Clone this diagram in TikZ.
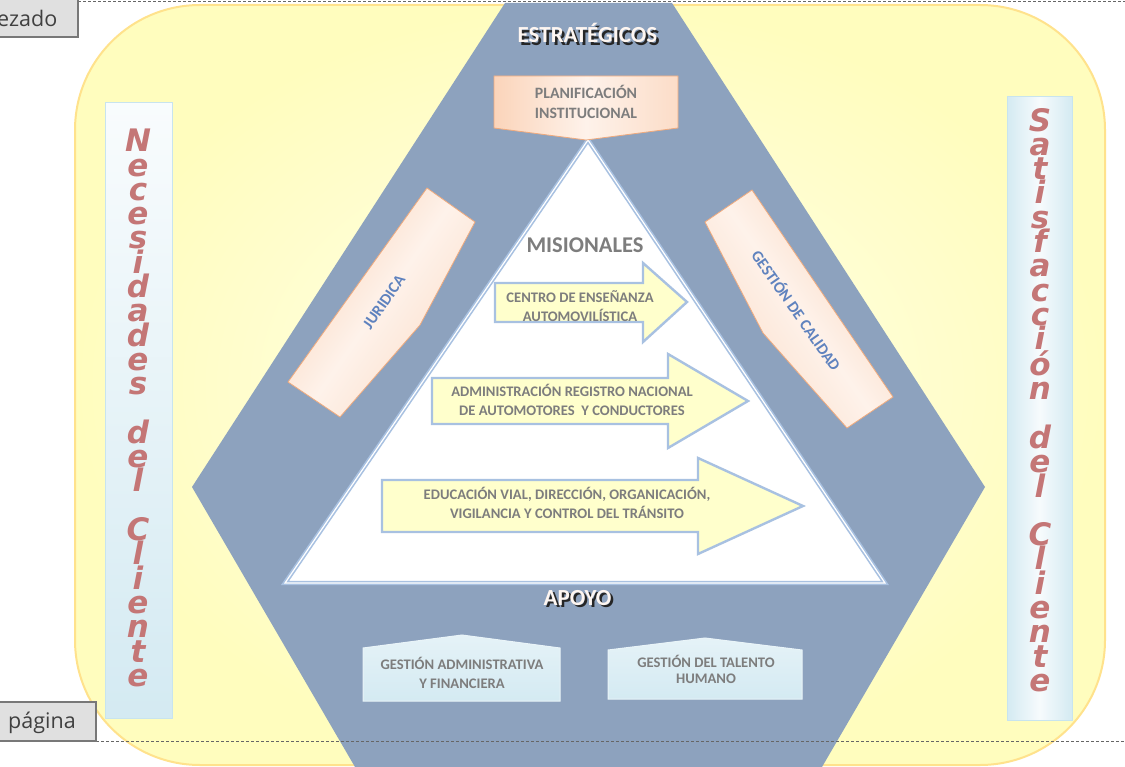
\documentclass[tikz,border=0pt]{standalone}
\usepackage{fontspec}
\setmainfont{Carlito}
\newfontfamily\sidefont{DejaVu Sans}
\newfontfamily\tabfont{Open Sans}
\usetikzlibrary{calc}

\definecolor{hexblue}{RGB}{141,162,190}
\definecolor{bgyellow}{RGB}{255,253,190}
\definecolor{bgline}{RGB}{255,226,140}
\definecolor{peach}{RGB}{251,212,186}
\definecolor{peachline}{RGB}{240,170,125}
\definecolor{boxgray}{RGB}{125,125,125}
\definecolor{arrowfill}{RGB}{255,255,204}
\definecolor{arrowline}{RGB}{168,193,225}
\definecolor{skyfill}{RGB}{212,234,242}
\definecolor{skyline}{RGB}{200,228,238}
\definecolor{rosetext}{RGB}{196,118,118}
\definecolor{diagtext}{RGB}{95,130,190}
\definecolor{tabfill}{RGB}{224,224,224}
\definecolor{tabline}{RGB}{120,120,120}

\begin{document}
\begin{tikzpicture}[
  x=1pt, y=-1pt,
  boxtext/.style={font=\bfseries\fontsize{14.6}{18.5}\selectfont, text=boxgray,
    align=center, inner sep=0pt},
  % strategic processes: peach boxes
  stratbox/.style={draw=peachline, line width=0.8pt, left color=peach,
    right color=peach!80, middle color=white!70!peach},
  % mission processes: yellow arrows
  misarrow/.style={draw=arrowline, line width=2.4pt, fill=arrowfill,
    line join=miter},
  % support processes: light blue boxes
  supbox/.style={draw=white!60!skyline, line width=1pt, top color=white!40!skyfill,
    bottom color=skyfill},
  sidebar/.style={draw=skyline, line width=1pt},
  sidetext/.style={font=\sidefont\bfseries\itshape\fontsize{31}{24.3}\selectfont,
    text=rosetext, align=center, inner sep=0pt},
  diagtext/.style={font=\bfseries\fontsize{16}{18}\selectfont, text=diagtext,
    inner sep=0pt},
  headshadow/.style={font=\bfseries\fontsize{23}{26}\selectfont, text=black!85,
    inner sep=0pt},
  head/.style={font=\bfseries\fontsize{23}{26}\selectfont, text=white!80!peach,
    inner sep=0pt},
  tab/.style={fill=tabfill, draw=tabline, line width=1.5pt},
  tabtext/.style={font=\tabfont\fontsize{21.5}{24}\selectfont, text=black!75,
    inner sep=0pt},
  pageline/.style={draw=black!60, line width=1pt, dash pattern=on 3pt off 2pt}
]
\useasboundingbox (0,0) rectangle (1125,767);
\fill[white] (0,0) rectangle (1125,767);

% ---------- Background ----------
\shade[inner color=white!70!bgyellow, outer color=bgyellow, draw=bgline,
  line width=2pt, rounded corners=125pt] (75,5) rectangle (1105,765);

% ---------- Client columns ----------
\shade[sidebar, top color=white!85!skyfill, bottom color=skyfill]
  (105,103) rectangle (172,718);
\shade[sidebar, left color=skyfill, right color=skyfill, middle color=white!80!skyfill]
  (1007,97) rectangle (1072,720);

\node[sidetext] (needs) at (138,408)
  {N\\e\\c\\e\\s\\i\\d\\a\\d\\e\\s\\\mbox{}\\d\\e\\l\\\mbox{}\\C\\l\\i\\e\\n\\t\\e};
\node[sidetext] (satisf) at (1040,400)
  {S\\a\\t\\i\\s\\f\\a\\c\\c\\i\\ó\\n\\\mbox{}\\d\\e\\l\\\mbox{}\\C\\l\\i\\e\\n\\t\\e};

% ---------- Process map ----------
\fill[hexblue] (505,3) -- (672,3) -- (985,487) -- (822,767) -- (355,767)
  -- (192,487) -- cycle;
\draw[fill=white, draw=arrowline, line width=1.6pt, double=white,
  double distance=1.2pt] (588,140) -- (885,583) -- (285,583) -- cycle;

% ---------- Strategic ----------
\node[headshadow] (est-shadow) at (590,35.5) {ESTRATÉGICOS};
\node[head] (est) at (587.5,33) {ESTRATÉGICOS};

\shade[stratbox] (494,76) -- (678,76) -- (678,128) -- (586,140) -- (494,128) -- cycle;
\node[boxtext, font=\bfseries\fontsize{15.8}{20}\selectfont] (plan) at (586,102)
  {PLANIFICACIÓN\\INSTITUCIONAL};

\shade[stratbox, shading angle=55] (427,188) -- (475,222) -- (420,325) -- (340,417)
  -- (288,382) -- cycle;
\node[diagtext, rotate=55] (jur) at (384,302) {JURIDICA};

\shade[stratbox, shading angle=-55] (752,190) -- (893,397) -- (847,428) -- (763,333)
  -- (705,222) -- cycle;
\node[diagtext, rotate=-55] (cal) at (797,310) {GESTIÓN DE CALIDAD};

% ---------- Mission ----------
\node[boxtext, font=\bfseries\fontsize{22.5}{24}\selectfont] (mis) at (585,245)
  {MISIONALES};

\draw[misarrow] (495,283) -- (643,283) -- (643,263) -- (687,302) -- (643,342)
  -- (643,322) -- (495,322) -- cycle;
\node[boxtext] (m1) at (580,306) {CENTRO DE ENSEÑANZA\\AUTOMOVILÍSTICA};

\draw[misarrow] (432,378) -- (668,378) -- (668,354) -- (748,401) -- (668,448)
  -- (668,424) -- (432,424) -- cycle;
\node[boxtext] (m2) at (572,400)
  {ADMINISTRACIÓN REGISTRO NACIONAL\\DE AUTOMOTORES\ \ Y CONDUCTORES};

\draw[misarrow] (382,480) -- (698,480) -- (698,458) -- (803,506) -- (698,554)
  -- (698,532) -- (382,532) -- cycle;
\node[boxtext] (m3) at (567,503)
  {EDUCACIÓN VIAL, DIRECCIÓN, ORGANICACIÓN,\\VIGILANCIA Y CONTROL DEL TRÁNSITO};

% ---------- Support ----------
\node[headshadow] (apo-shadow) at (580,600.5) {APOYO};
\node[head] (apo) at (577.5,598) {APOYO};

\shade[supbox] (363,648) -- (462,635) -- (560,648) -- (560,701) -- (363,701) -- cycle;
\node[boxtext] (s1) at (462,673) {GESTIÓN ADMINISTRATIVA\\Y FINANCIERA};

\shade[supbox] (608,650) -- (705,638) -- (802,650) -- (802,699) -- (608,699) -- cycle;
\node[boxtext, font=\bfseries\fontsize{14.6}{16}\selectfont] (s2) at (706,669)
  {GESTIÓN DEL TALENTO\\HUMANO};

% ---------- Header / footer marks ----------
\draw[pageline] (78,1.5) -- (1125,1.5);
\draw[pageline] (96,741) -- (1125,741);
\draw[tab] (-5,-5) rectangle (78,37);
\node[tabtext, anchor=base west] (hdr) at (-3,27) {ezado};
\draw[tab] (-5,702) rectangle (96,741);
\node[tabtext, anchor=base west] (ftr) at (8,728) {página};

\end{tikzpicture}
\end{document}
